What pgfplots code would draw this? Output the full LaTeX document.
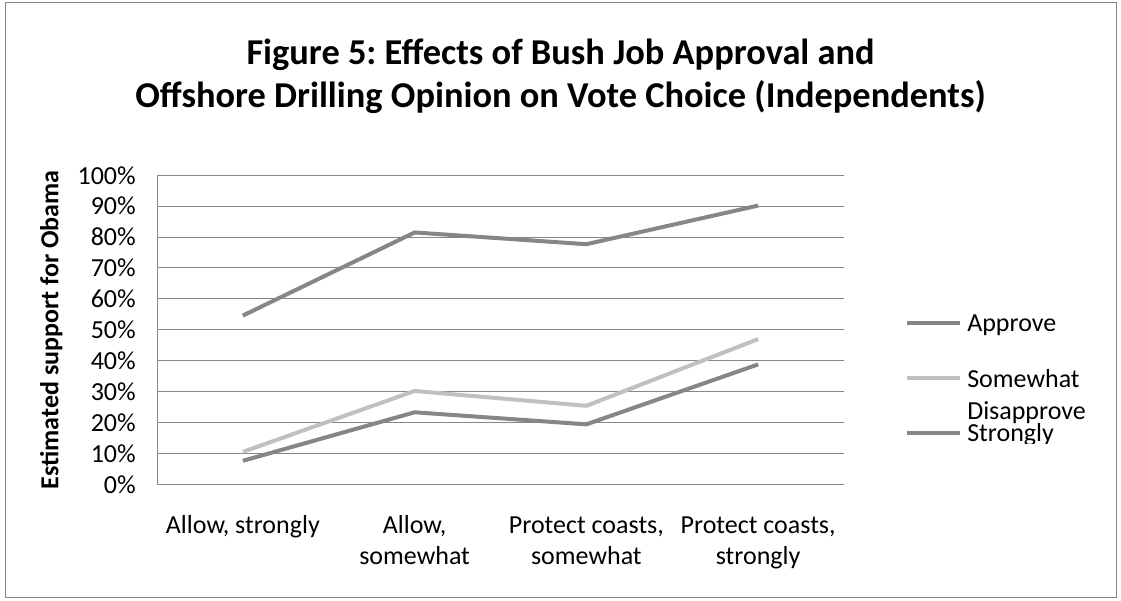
\documentclass[border=0pt]{standalone}
\usepackage{fontspec}
\setmainfont{Carlito}
\usepackage{pgfplots}
\pgfplotsset{compat=1.18}
\frenchspacing
\definecolor{darkline}{HTML}{868686}
\definecolor{lightline}{HTML}{C0C0C0}
\definecolor{gridgray}{HTML}{878787}
\newcommand{\lblfont}{\fontsize{19.5}{23}\selectfont}
\begin{document}
\begin{tikzpicture}
\useasboundingbox (0,0) rectangle (840.75pt,450pt);
\fill[white] (0,0) rectangle (840.75pt,450pt);
\draw[gridgray, line width=0.75pt] (3.75pt,2.25pt) rectangle (837pt,447.75pt);
% title
\node[anchor=base, inner sep=0pt, font=\fontsize{27.3}{33}\selectfont\bfseries]
  at (420.4pt,401.6pt) {Figure 5: Effects of Bush Job Approval and};
\node[anchor=base, inner sep=0pt, font=\fontsize{27.3}{33}\selectfont\bfseries]
  at (420.4pt,369.4pt) {Offshore Drilling Opinion on Vote Choice (Independents)};
\begin{axis}[
  scale only axis, width=515.25pt, height=231.75pt,
  at={(117.75pt,86.78pt)}, anchor=south west,
  xmin=-0.5, xmax=3.5, ymin=0, ymax=100,
  xtick={0,1,2,3},
  xticklabels={{\strut Allow, strongly},{\strut Allow,\\somewhat},{\strut Protect coasts,\\somewhat},{\strut Protect coasts,\\strongly}},
  ytick={0,10,...,100},
  yticklabel={\lblfont\pgfmathprintnumber{\tick}\%},
  /pgf/number format/assume math mode=true,
  ymajorgrids, grid style={gridgray, line width=0.75pt},
  axis lines*=left,
  axis line style={gridgray, line width=0.75pt},
  major tick length=0pt,
  tick style={draw=none},
  yticklabel style={font=\lblfont, anchor=east, inner sep=0pt, xshift=-15.75pt},
  xticklabel style={font=\lblfont, align=center, anchor=north, inner sep=0pt, yshift=-20.9pt},
  ylabel={Estimated support for Obama},
  ylabel style={font=\lblfont\bfseries, at={(axis description cs:-0.154,0.5)}, anchor=center},
]
\addplot[darkline, line width=3pt, line join=round] coordinates {(0,54.6) (1,81.5) (2,77.7) (3,90.2)};
\addplot[lightline, line width=3pt, line join=round] coordinates {(0,10.5) (1,30.2) (2,25.4) (3,47.0)};
\addplot[darkline, line width=3pt, line join=round] coordinates {(0,7.6) (1,23.3) (2,19.4) (3,38.8)};
\end{axis}
% legend
\draw[darkline, line width=3pt] (680.25pt,208pt) -- (720pt,208pt);
\draw[lightline, line width=3pt] (680.25pt,166.5pt) -- (720pt,166.5pt);
\draw[darkline, line width=3pt] (680.25pt,125.25pt) -- (720pt,125.25pt);
\node[anchor=base west, inner sep=0pt, font=\lblfont] at (725.25pt,201pt) {Approve};
\node[anchor=base west, inner sep=0pt, font=\lblfont] at (725.25pt,159pt) {Somewhat};
\node[anchor=base west, inner sep=0pt, font=\lblfont] at (725.25pt,135pt) {Disapprove};
\begin{scope}
  \clip (722pt,117pt) rectangle (836pt,134pt);
  \node[anchor=base west, inner sep=0pt, font=\lblfont] at (725.25pt,118.5pt) {Strongly};
\end{scope}
\end{tikzpicture}
\end{document}
